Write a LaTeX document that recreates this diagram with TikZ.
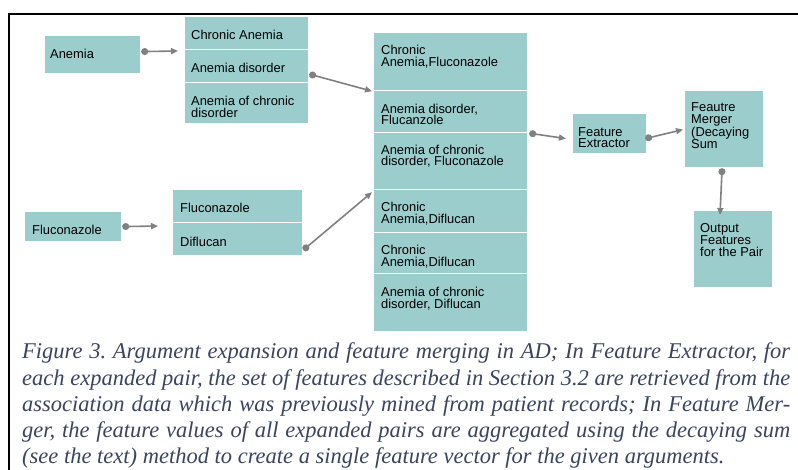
\documentclass[tikz,border=0pt]{standalone}
\usepackage{fontspec}
\setmainfont{Liberation Serif}
\newfontfamily\boxfont{Liberation Sans}
\usetikzlibrary{arrows.meta}
\definecolor{boxc}{RGB}{155,205,205}
\definecolor{linec}{RGB}{128,128,128}
\definecolor{capc}{RGB}{58,68,96}
\begin{document}
\begin{tikzpicture}[x=1pt,y=-1pt,
  box/.style={fill=boxc,draw=white,line width=1.2pt,anchor=north west,inner sep=0pt},
  txt/.style={anchor=west,align=left,inner sep=0pt,font=\boxfont\fontsize{12.9}{11.5}\selectfont},
  conn/.style={draw=linec,line width=1.6pt,{Circle[length=7pt,width=7pt]}-{Triangle[length=7pt,width=6pt]}},
  capline/.style={anchor=base west,inner sep=0pt,text=capc,font=\itshape\fontsize{22.5}{26}\selectfont\frenchspacing}]
\useasboundingbox (0,0) rectangle (798,470);
% frame
\draw[line width=2pt] (9,470) -- (9,14) -- (798,14);
% boxes
\node[box,minimum width=96pt,minimum height=38pt] (anem) at (44,35) {};
\node[box,minimum width=124pt,minimum height=33pt] (c1a) at (184,16) {};
\node[box,minimum width=124pt,minimum height=33pt] (c1b) at (184,49) {};
\node[box,minimum width=124pt,minimum height=41pt] (c1c) at (184,82) {};
\node[box,minimum width=97pt,minimum height=30pt] (fluc) at (24,211) {};
\node[box,minimum width=130pt,minimum height=34pt] (c2a) at (172,189) {};
\node[box,minimum width=130pt,minimum height=33pt] (c2b) at (172,222) {};
\node[box,minimum width=154pt,minimum height=58pt] (s1) at (373,32) {};
\node[box,minimum width=154pt,minimum height=42pt] (s2) at (373,90) {};
\node[box,minimum width=154pt,minimum height=57pt] (s3) at (373,132) {};
\node[box,minimum width=154pt,minimum height=43pt] (s4) at (373,189) {};
\node[box,minimum width=154pt,minimum height=41pt] (s5) at (373,232) {};
\node[box,minimum width=154pt,minimum height=58pt] (s6) at (373,273) {};
\node[box,minimum width=74pt,minimum height=40pt] (fe) at (572,113) {};
\node[box,minimum width=79pt,minimum height=77pt] (fm) at (684,90) {};
\node[box,minimum width=79pt,minimum height=77pt] (out) at (693,210) {};
% texts
\node[txt] (tanem) at (50,54) {Anemia};
\node[txt] (tc1a) at (191,35) {Chronic Anemia};
\node[txt] (tc1b) at (191,68) {Anemia disorder};
\node[txt] (tc1c) at (191,107) {Anemia of chronic\\disorder};
\node[txt] (tfluc) at (32,230) {Fluconazole};
\node[txt] (tc2a) at (180,208) {Fluconazole};
\node[txt] (tc2b) at (180,242) {Diflucan};
\node[txt] (ts1) at (381,56.5) {Chronic\\Anemia,Fluconazole};
\node[txt] (ts2) at (381,114.5) {Anemia disorder,\\Flucanzole};
\node[txt] (ts3) at (381,156) {Anemia of chronic\\disorder, Fluconazole};
\node[txt] (ts4) at (381,213.5) {Chronic\\Anemia,Diflucan};
\node[txt] (ts5) at (381,256.5) {Chronic\\Anemia,Diflucan};
\node[txt] (ts6) at (381,298.5) {Anemia of chronic\\disorder, Diflucan};
\node[txt] (tfe) at (578,137.5) {Feature\\Extractor};
\node[txt] (tfm) at (691,126) {Feautre\\Merger\\(Decaying\\Sum};
\node[txt] (tout) at (700,240) {Output\\Features\\for the Pair};
% connectors
\coordinate (e1) at (178,51);
\coordinate (e3) at (158,226);
\draw[conn] ([yshift=3pt]anem.east) -- (e1);
\draw[conn] ([yshift=-8pt]c1b.east) -- ([xshift=-1pt]s1.south west);
\draw[conn] (fluc.east) -- (e3);
\draw[conn] ([yshift=-11pt]c2b.east) -- ([xshift=-1pt,yshift=-2pt]s3.south west);
\draw[conn] ([xshift=1pt]s2.south east) -- ([xshift=-6pt,yshift=-5pt]fe.west);
\draw[conn] ([xshift=-2pt,yshift=-5pt]fe.east) -- ([xshift=-1pt,yshift=-0.5pt]fm.west);
\draw[conn] ([xshift=-2pt]fm.south) -- ([xshift=27pt,yshift=-5pt]out.north west);
% caption
\node[capline] (l1) at (22,359) {\makebox[768pt][s]{Figure 3. Argument expansion and feature merging in AD; In Feature Extractor, for}};
\node[capline] (l2) at (22,385) {\makebox[768pt][s]{each expanded pair, the set of features described in Section 3.2 are retrieved from the}};
\node[capline] (l3) at (22,411) {\makebox[768pt][s]{association data which was previously mined from patient records; In Feature Mer-}};
\node[capline] (l4) at (22,437) {\makebox[768pt][s]{ger, the feature values of all expanded pairs are aggregated using the decaying sum}};
\node[capline] (l5) at (22,463) {(see the text) method to create a single feature vector for the given arguments.};
\end{tikzpicture}
\end{document}
